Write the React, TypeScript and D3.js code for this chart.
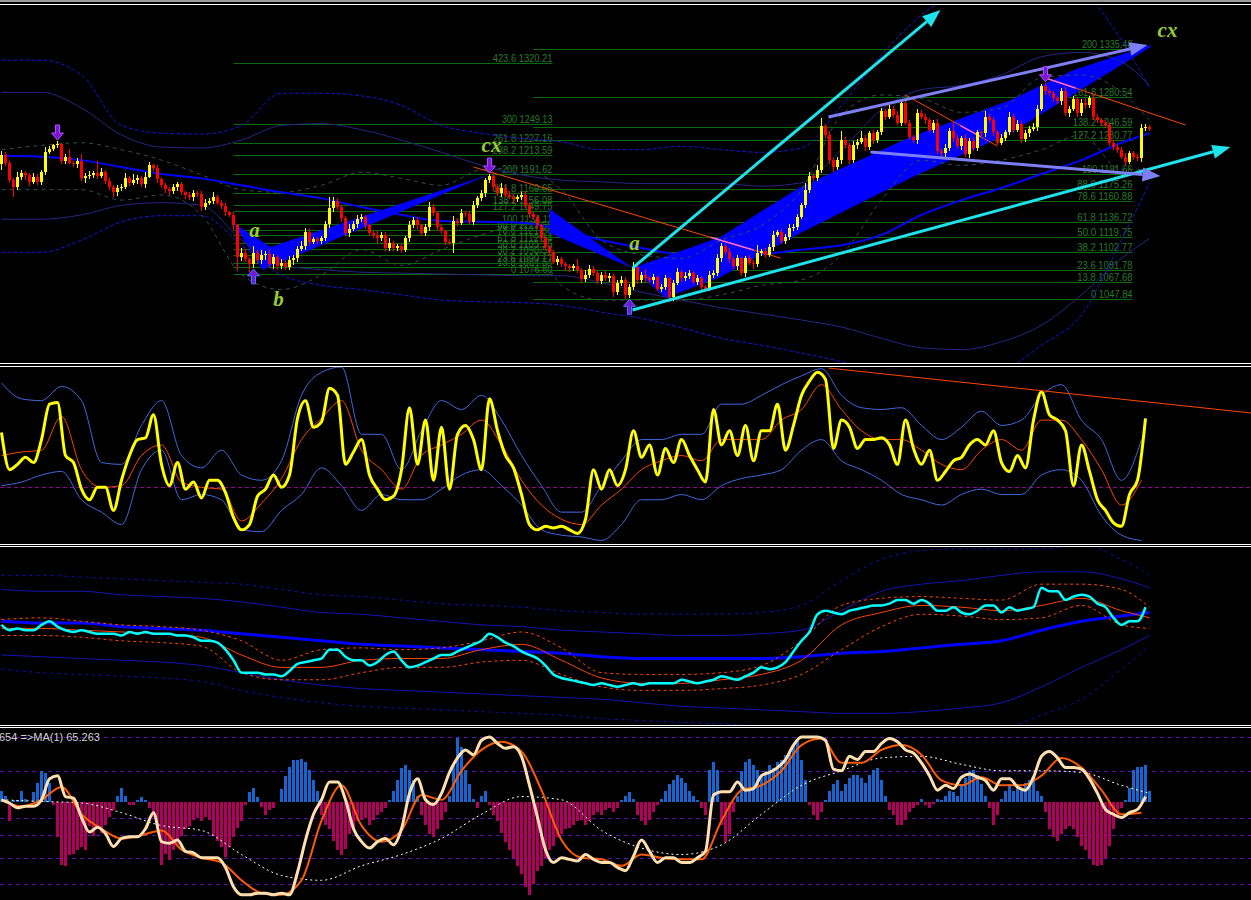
import * as d3 from 'd3';

const W = 1251;
const H = 900;

// ---------- panel 1 : price bars (open = previous close) ----------
const firstOpen = 1203;
const closes = [
  1214, 1205, 1185, 1177, 1189, 1193, 1191, 1183, 1189, 1183,
  1194, 1217, 1221, 1225, 1226, 1207, 1212, 1205, 1203, 1207,
  1187, 1190, 1191, 1193, 1190, 1194, 1184, 1177, 1171, 1176,
  1177, 1187, 1182, 1185, 1187, 1180, 1189, 1202, 1199, 1186,
  1179, 1175, 1172, 1177, 1180, 1171, 1168, 1165, 1170, 1169,
  1154, 1159, 1161, 1166, 1159, 1155, 1148, 1145, 1133, 1096,
  1101, 1094, 1089, 1101, 1093, 1099, 1100, 1088, 1096, 1086,
  1090, 1085, 1093, 1095, 1106, 1109, 1125, 1114, 1117, 1115,
  1118, 1134, 1153, 1161, 1154, 1141, 1124, 1129, 1134, 1140,
  1142, 1133, 1124, 1122, 1118, 1122, 1107, 1113, 1107, 1109,
  1105, 1118, 1133, 1139, 1133, 1124, 1131, 1154, 1147, 1131,
  1126, 1114, 1113, 1138, 1136, 1147, 1146, 1137, 1156, 1164,
  1170, 1185, 1190, 1177, 1170, 1176, 1168, 1166, 1163, 1166,
  1168, 1156, 1146, 1142, 1133, 1118, 1108, 1102, 1091, 1094,
  1088, 1086, 1084, 1086, 1081, 1071, 1076, 1083, 1078, 1069,
  1076, 1072, 1075, 1056, 1067, 1070, 1053, 1062, 1085, 1070,
  1076, 1072, 1070, 1073, 1060, 1062, 1072, 1050, 1067, 1079,
  1072, 1075, 1078, 1068, 1072, 1062, 1060, 1076, 1078, 1095,
  1109, 1102, 1094, 1086, 1095, 1078, 1095, 1090, 1088, 1101,
  1103, 1099, 1108, 1122, 1125, 1115, 1120, 1130, 1131, 1143,
  1156, 1174, 1190, 1187, 1197, 1247, 1237, 1208, 1200, 1208,
  1231, 1225, 1208, 1225, 1229, 1233, 1223, 1239, 1231, 1240,
  1264, 1258, 1267, 1260, 1251, 1274, 1251, 1235, 1231, 1262,
  1258, 1254, 1243, 1251, 1218, 1216, 1222, 1241, 1233, 1224,
  1233, 1215, 1230, 1222, 1240, 1239, 1258, 1254, 1240, 1228,
  1234, 1240, 1258, 1243, 1250, 1232, 1239, 1244, 1246, 1267,
  1293, 1287, 1285, 1279, 1276, 1287, 1262, 1267, 1278, 1262,
  1274, 1271, 1279, 1258, 1254, 1251, 1248, 1228, 1223, 1220,
  1212, 1206, 1216, 1212, 1210, 1245, 1246, 1244,
];
const wickUp = [
  4, 3, 2, 3, 5, 4, 3, 2, 4, 3, 3, 6, 3, 2, 4, 2, 3, 9, 2, 3,
  8, 3, 4, 3, 14, 5, 3, 4, 2, 3, 4, 6, 3, 7, 4, 3, 5, 4, 2, 3,
  2, 3, 2, 4, 3, 3, 2, 3, 4, 3, 3, 4, 3, 5, 2, 3, 4, 2, 3, 2,
  6, 5, 3, 8, 4, 6, 3, 5, 4, 3, 4, 3, 5, 4, 3, 6, 5, 4, 3, 2,
  3, 4, 12, 4, 3, 2, 3, 6, 4, 5, 4, 3, 2, 3, 4, 3, 3, 5, 2, 3,
  2, 3, 5, 4, 3, 2, 4, 6, 3, 2, 3, 2, 3, 6, 3, 5, 3, 4, 5, 3,
  4, 3, 2, 4, 3, 6, 3, 4, 3, 2, 3, 4, 3, 2, 3, 2, 3, 2, 3, 4,
  2, 3, 2, 3, 8, 3, 5, 4, 3, 2, 3, 4, 3, 2, 3, 5, 3, 4, 6, 3,
  3, 7, 3, 4, 2, 3, 4, 2, 3, 5, 3, 4, 3, 2, 4, 3, 2, 4, 3, 5,
  4, 3, 5, 3, 4, 2, 3, 4, 3, 9, 3, 4, 3, 5, 3, 4, 3, 5, 4, 3,
  3, 8, 4, 3, 5, 10, 3, 4, 3, 4, 11, 4, 3, 5, 3, 9, 4, 3, 4, 3,
  4, 3, 5, 3, 4, 3, 4, 3, 2, 5, 4, 3, 2, 3, 4, 3, 5, 4, 12, 4,
  3, 5, 3, 4, 3, 2, 6, 3, 4, 3, 4, 3, 5, 3, 4, 3, 4, 3, 5, 4,
  3, 4, 3, 2, 3, 4, 5, 3, 4, 3, 4, 5, 3, 4, 3, 2, 3, 4, 3, 4,
  3, 4, 3, 2, 3, 4, 3, 2,
];
const wickDn = [
  6, 4, 3, 12, 3, 4, 6, 5, 3, 4, 4, 3, 2, 3, 3, 4, 3, 2, 3, 4,
  3, 5, 4, 3, 4, 3, 4, 3, 5, 4, 3, 2, 4, 3, 5, 3, 4, 2, 3, 4,
  3, 5, 4, 3, 4, 3, 5, 3, 4, 3, 4, 3, 3, 4, 3, 3, 4, 3, 5, 15,
  4, 3, 10, 5, 3, 4, 6, 3, 5, 4, 3, 4, 3, 6, 4, 3, 4, 5, 3, 4,
  4, 3, 4, 5, 3, 4, 3, 4, 3, 4, 3, 4, 3, 4, 5, 3, 4, 3, 4, 3,
  4, 3, 4, 3, 4, 3, 3, 4, 3, 4, 3, 4, 3, 12, 4, 3, 4, 3, 4, 3,
  3, 4, 3, 4, 3, 4, 3, 3, 4, 3, 4, 3, 5, 3, 4, 4, 3, 4, 3, 4,
  3, 4, 5, 4, 3, 4, 3, 4, 3, 4, 4, 3, 4, 6, 3, 4, 5, 4, 3, 5,
  3, 4, 3, 4, 3, 4, 3, 5, 4, 3, 4, 3, 4, 3, 4, 5, 4, 3, 4, 3,
  4, 3, 4, 3, 4, 3, 4, 3, 5, 3, 3, 4, 3, 4, 3, 4, 3, 4, 3, 3,
  3, 3, 4, 3, 3, 4, 3, 4, 6, 3, 4, 3, 4, 3, 4, 3, 4, 3, 4, 3,
  3, 4, 3, 4, 3, 4, 3, 4, 3, 4, 3, 4, 3, 4, 3, 4, 5, 3, 4, 3,
  4, 3, 4, 3, 4, 3, 4, 3, 4, 3, 3, 4, 3, 4, 3, 4, 3, 4, 3, 4,
  3, 4, 3, 4, 3, 4, 3, 4, 3, 4, 3, 4, 3, 4, 3, 4, 3, 4, 3, 4,
  3, 4, 3, 4, 3, 4, 3, 3,
];

// overlays sampled every 10 bars (last point on bar 287)
const overlayBars = [0, 10, 20, 30, 40, 50, 60, 70, 80, 90, 100, 110, 120, 130, 140,
  150, 160, 170, 180, 190, 200, 210, 220, 230, 240, 250, 260, 270, 280, 287];
const maLine = [1213, 1212, 1208, 1200, 1192, 1187, 1179, 1171, 1164, 1154, 1145, 1138, 1137, 1136, 1128,
  1116, 1107, 1099, 1097, 1100, 1105, 1110, 1122, 1145, 1162, 1176, 1192, 1208, 1228, 1239];
const envUpperDot = [1323, 1323, 1306, 1248, 1239, 1238, 1248, 1285, 1285, 1282, 1271, 1248, 1239, 1233, 1229,
  1220, 1220, 1224, 1220, 1217, 1222, 1271, 1329, 1375, 1404, 1421, 1421, 1404, 1346, 1291];
const envUpper = [1286, 1286, 1268, 1237, 1223, 1222, 1231, 1248, 1250, 1243, 1231, 1217, 1202, 1191, 1185,
  1183, 1181, 1181, 1181, 1178, 1182, 1220, 1266, 1289, 1294, 1306, 1327, 1332, 1321, 1294];
const envLower = [1140, 1140, 1145, 1156, 1159, 1156, 1116, 1087, 1082, 1079, 1078, 1077, 1076, 1075, 1075,
  1067, 1056, 1047, 1038, 1031, 1024, 1016, 1003, 992, 990, 999, 1018, 1053, 1095, 1118];
const envLowerDot = [1102, 1102, 1116, 1137, 1144, 1144, 1110, 1076, 1064, 1059, 1053, 1047, 1045, 1044, 1041,
  1033, 1026, 1015, 1003, 995, 986, 976, 964, 955, 955, 964, 995, 1030, 1116, 1182];
const bandUpper = [1220, 1225, 1228, 1220, 1208, 1191, 1174, 1171, 1179, 1194, 1187, 1179, 1197, 1199, 1174,
  1116, 1099, 1095, 1116, 1133, 1174, 1260, 1283, 1279, 1263, 1268, 1303, 1306, 1286, 1254];
const bandLower = [1174, 1174, 1174, 1162, 1168, 1145, 1076, 1059, 1076, 1105, 1087, 1105, 1122, 1133, 1064,
  1047, 1047, 1047, 1053, 1064, 1070, 1099, 1162, 1208, 1202, 1208, 1220, 1237, 1197, 1197];

// fibonacci levels (left and right set)
const fibLeftLevels = ['0', '13.8', '23.6', '38.2', '50.0', '61.8', '78.6', '88.6', '100', '127.2', '138.2',
  '161.8', '200', '238.2', '261.8', '300', '423.6'];
const fibLeftPrices = [1076.60, 1084.54, 1090.17, 1098.57, 1105.35, 1112.14, 1121.80, 1127.55, 1134.11,
  1149.75, 1156.08, 1169.65, 1191.62, 1213.59, 1227.16, 1249.13, 1320.21];
const fibLeftSpan = [58, 137.75];
const fibRightLevels = ['0', '13.8', '23.6', '38.2', '50.0', '61.8', '78.6', '88.6', '100', '127.2', '138.2',
  '161.8', '200'];
const fibRightPrices = [1047.84, 1067.68, 1081.78, 1102.77, 1119.75, 1136.72, 1160.88, 1175.26, 1191.66,
  1230.77, 1246.59, 1280.54, 1335.48];
const fibRightSpan = [133, 282.75];

// harmonic pattern fills, [bar, price]
const patternA = [[58, 1135.6], [65.25, 1081.5], [122.25, 1192.0], [67.25, 1108.0]];
const patternWedge = [[137, 1151.7], [137, 1124.1], [157.75, 1083.8]];
const patternB = [[157.75, 1083.8], [179.75, 1119.5], [199.75, 1177.0], [227.25, 1234.6], [252.25, 1277.1],
  [268, 1311.7], [287.25, 1340.4], [287.25, 1338.1], [252.25, 1239.2], [227.25, 1187.4], [199.75, 1124.1],
  [179.75, 1073.5], [166, 1049.3]];

// trend lines, [bar, price]
const cyanLines = [
  [[157.75, 1083.8], [234.75, 1380.7]],
  [[157.75, 1035.5], [307.25, 1223.1]],
];
const channelLines = [
  [[206.75, 1257.6], [286.5, 1340.4]],
  [[217.25, 1217.3], [289.75, 1189.7]],
];
const zigLines = [
  [[118, 1200.1], [194.75, 1095.3]],
  [[226, 1282.9], [249, 1224.2]],
  [[261, 1302.5], [296, 1248.4]],
];
const zigPink = [
  [[177.25, 1119.3], [188, 1104.6]],
  [[239.75, 1247.8], [244.75, 1235.0]],
  [[261, 1302.5], [268.5, 1290.9]],
];
const arrowsDown = [14, 122, 261];
const arrowsUp = [63, 157];
const labelTexts = ['a', 'b', 'cx', 'a', 'cx'];
const labelBars = [63.25, 69.25, 122.5, 158.25, 291.5];
const labelPrices = [1119.5, 1040.1, 1217.3, 1104.6, 1349.6];

// ---------- panel 2 : oscillator ----------
const oscMain = [
  63, 42, 45, 49, 46, 59, 79, 80, 50, 46, 31, 25, 32, 32, 19, 36, 50, 59, 60, 73,
  45, 33, 46, 31, 35, 26, 36, 36, 29, 15, 8, 11, 27, 31, 39, 32, 39, 71, 81, 66,
  69, 88, 84, 45, 52, 59, 39, 31, 25, 27, 42, 77, 45, 70, 36, 66, 31, 62, 67, 59,
  42, 82, 64, 50, 43, 28, 11, 8, 10, 9, 10, 8, 6, 14, 42, 31, 42, 33, 42, 64,
  49, 56, 39, 54, 46, 59, 50, 42, 35, 76, 56, 64, 50, 67, 47, 64, 64, 79, 53, 67,
  84, 92, 97, 93, 54, 70, 66, 54, 59, 59, 60, 56, 45, 70, 54, 45, 53, 36, 41, 47,
  49, 56, 59, 56, 64, 46, 41, 50, 43, 70, 86, 73, 70, 64, 33, 56, 41, 25, 19, 12,
  10, 28, 36, 71,
];
const oscSignal = [50, 52, 53, 72, 42, 32, 33, 50, 56, 35, 32, 31, 13, 23, 37, 59, 71, 81, 53, 42,
  31, 50, 56, 62, 70, 56, 36, 22, 14, 11, 22, 31, 42, 47, 50, 47, 59, 59, 59, 70,
  76, 90, 76, 64, 59, 59, 53, 45, 42, 53, 59, 53, 70, 70, 59, 42, 22, 36];
const oscUpper = [91, 82, 81, 89, 81, 46, 45, 67, 81, 50, 43, 53, 39, 36, 47, 84, 97, 100, 62, 62,
  42, 64, 81, 76, 84, 70, 50, 33, 18, 18, 33, 47, 59, 59, 62, 62, 79, 79, 84, 90,
  95, 99, 84, 77, 76, 77, 67, 59, 66, 75, 67, 70, 84, 90, 70, 59, 36, 59];
const oscLower = [33, 35, 39, 41, 25, 18, 11, 42, 53, 25, 28, 25, 8, 7, 19, 28, 43, 33, 19, 28,
  25, 25, 31, 39, 42, 33, 22, 8, 5, 4, 2, 11, 25, 25, 28, 25, 33, 37, 39, 42,
  53, 59, 47, 42, 36, 28, 25, 22, 28, 31, 28, 28, 39, 42, 36, 16, 5, 2];
const oscLevel = 32;
const oscTrend = [[206.75, 99.4], [312.5, 74.0]];

// ---------- panel 3 : smoothed momentum ----------
const momMain = [
  56, 53, 54, 53, 53, 56, 58, 55, 53, 52, 53, 52, 51, 51, 51, 50, 52, 51, 52, 51,
  51, 51, 50, 50, 49, 47, 47, 46, 42, 36, 29, 29, 29, 28, 28, 27, 30, 34, 35, 36,
  37, 42, 42, 38, 36, 36, 33, 35, 39, 41, 36, 32, 33, 35, 37, 39, 39, 41, 43, 45,
  47, 51, 49, 46, 44, 41, 39, 37, 33, 28, 26, 25, 24, 23, 22, 23, 22, 21, 22, 23,
  22, 23, 23, 23, 23, 25, 24, 23, 24, 25, 27, 26, 25, 27, 29, 32, 31, 32, 35, 41,
  47, 52, 62, 64, 63, 62, 64, 65, 66, 67, 67, 68, 70, 70, 68, 70, 68, 64, 64, 66,
  63, 62, 64, 67, 67, 63, 66, 64, 65, 66, 77, 75, 75, 70, 72, 73, 72, 68, 66, 60,
  56, 58, 58, 66,
];
const momMa = [54, 54, 53, 52, 51, 49, 39, 32, 32, 36, 37, 37, 42, 45, 36, 26, 23, 23, 25, 28,
  36, 56, 63, 67, 66, 64, 67, 71, 64, 60];
const momBandUp = [59, 60, 58, 56, 55, 53, 47, 36, 42, 43, 42, 43, 47, 52, 43, 29, 28, 28, 29, 33,
  47, 67, 71, 72, 71, 70, 79, 79, 76, 66];
const momBandDn = [50, 50, 49, 47, 46, 44, 29, 25, 25, 29, 32, 32, 35, 36, 28, 21, 19, 19, 20, 22,
  28, 42, 55, 62, 61, 59, 60, 67, 56, 54];
const momSlow = [58, 57, 57, 55, 54, 53, 51, 49, 47, 45, 44, 43, 42, 41, 40, 38, 37, 37, 37, 37,
  38, 40, 41, 43, 45, 47, 53, 58, 61, 63];
const momChanUp = [76, 75, 75, 73, 72, 71, 69, 66, 63, 62, 60, 58, 56, 55, 53, 52, 51, 50, 50, 51,
  53, 64, 75, 79, 81, 84, 86, 86, 82, 77];
const momChanDn = [39, 38, 37, 36, 35, 33, 29, 25, 22, 20, 19, 18, 17, 16, 15, 14, 12, 10, 9, 8,
  7, 6, 6, 7, 9, 12, 21, 32, 42, 50];
const momOuterUp = [84, 84, 83, 82, 81, 80, 79, 76, 73, 72, 70, 68, 67, 66, 64, 63, 62, 62, 62, 63,
  67, 81, 93, 98, 99, 99, 99, 101, 93, 84];
const momOuterDn = [31, 29, 28, 27, 26, 24, 19, 15, 12, 10, 9, 8, 7, 6, 5, 3, 2, 1, 0, -1,
  -2, -5, -7, -8, -7, -3, 5, 14, 31, 44];

// ---------- panel 4 : stochastic + histogram ----------
const stochMain = [
  61, 59, 56, 57, 57, 61, 74, 76, 63, 62, 50, 41, 44, 40, 32, 37, 38, 38, 43, 53,
  35, 34, 36, 29, 28, 25, 25, 25, 19, 7, 2, 2, 3, 3, 2, 3, 2, 16, 36, 52,
  61, 72, 72, 61, 43, 35, 31, 35, 37, 33, 43, 65, 74, 61, 58, 65, 78, 87, 92, 89,
  98, 100, 96, 93, 94, 88, 70, 50, 30, 22, 25, 24, 23, 27, 24, 22, 22, 19, 17, 26,
  36, 29, 22, 25, 25, 22, 22, 25, 29, 64, 66, 66, 72, 67, 68, 76, 78, 81, 86, 95,
  100, 100, 100, 98, 80, 79, 88, 86, 91, 91, 96, 99, 97, 92, 90, 84, 76, 67, 70, 68,
  75, 77, 75, 73, 67, 74, 74, 69, 67, 75, 88, 91, 87, 81, 81, 80, 74, 65, 55, 52,
  50, 53, 55, 63,
];
const stochSignal = [61, 57, 61, 69, 52, 43, 37, 39, 42, 30, 25, 22, 11, 3, 2, 11, 48, 70, 45, 35,
  42, 64, 61, 79, 92, 97, 91, 67, 36, 25, 24, 20, 27, 25, 24, 24, 48, 67, 70, 79,
  95, 99, 84, 84, 92, 95, 89, 73, 70, 75, 70, 70, 76, 87, 81, 67, 52, 53];
const stochSlow = [61, 60, 59, 53, 45, 42, 27, 14, 11, 20, 27, 37, 52, 63, 61, 42, 31, 27, 33, 52,
  70, 79, 87, 88, 83, 79, 79, 78, 70, 65];
const stochLevels = [100, 79, 50, 39, 25, 9];
const histValues = [
  7, 4, -12, 1, 1, 7, 2, 0, 6, 12, 19, 18, 12, -2, -22, -39, -40, -33, -32, -30,
  -28, -30, -15, -21, -16, -19, -14, -9, -5, 4, 9, 4, -2, -2, 1, 3, 1, -4, -9, -17,
  -39, -32, -36, -30, -26, -21, -17, -15, -11, -10, -12, -9, -11, -21, -24, -28, -34, -28, -22, -16,
  -12, -2, 6, 9, 3, -3, -8, -5, -4, 0, 8, 16, 22, 26, 26, 27, 25, 20, 14, 7,
  -8, -14, -17, -24, -30, -33, -29, -20, -16, -12, -11, -10, -14, -11, -8, -6, -4, 1, 7, 14,
  21, 23, 20, 14, 4, -8, -14, -20, -22, -17, -11, -6, 4, 23, 40, 34, 20, 11, 2, -4,
  4, 7, -2, -8, -12, -19, -25, -30, -35, -40, -45, -53, -58, -51, -43, -40, -35, -30, -27, -22,
  -20, -17, -16, -14, -12, -11, -14, -12, -8, -6, -8, -5, -4, -6, -4, 1, 4, 6, 2, -8,
  -12, -14, -11, -6, -2, 2, 7, 11, 14, 17, 15, 12, 7, 4, 1, -4, -8, 20, 25, 20,
  -14, -25, -20, -6, 4, 19, 25, 27, 23, 20, 17, 19, 23, 21, 25, 26, 29, 32, 35, 38,
  26, 14, -2, -8, -11, -6, 1, 7, 11, 14, 7, 11, 15, 17, 17, 15, 12, 17, 20, 21,
  14, 4, -5, -8, -14, -14, -11, -6, -4, -2, 2, -2, -4, -1, 2, 1, 4, 7, 6, 4,
  11, 15, 19, 20, 17, 11, 4, -4, -14, -8, 2, 7, 11, 7, 11, 9, 12, 14, 15, 7,
  4, -6, -17, -22, -24, -20, -17, -15, -17, -22, -27, -30, -35, -39, -40, -39, -35, -27, -17, -10,
  -4, 1, 9, 20, 22, 22, 23, 7,
];
const stochCaption = '654  =>MA(1) 65.263';

type Pt = number[];

function arrowHead(x1: number, y1: number, x2: number, y2: number, len: number, half: number) {
  const a = Math.atan2(y2 - y1, x2 - x1);
  const bx = x2 - len * Math.cos(a);
  const by = y2 - len * Math.sin(a);
  const nx = -Math.sin(a) * half;
  const ny = Math.cos(a) * half;
  return { base: [bx, by], points: `${x2},${y2} ${bx + nx},${by + ny} ${bx - nx},${by - ny}` };
}

export default function App() {
  const x = d3.scaleLinear().domain([0, 100]).range([1.5, 401.5]);
  const yPrice = d3.scaleLinear().domain([975.7, 1386.5]).range([362, 5]);
  const yOsc = d3.scaleLinear().domain([0, 100]).range([544, 367]);
  const yMom = d3.scaleLinear().domain([0, 100]).range([724, 547]);
  const yStoch = d3.scaleLinear().domain([0, 100]).range([898, 737]);
  const yHist = d3.scaleLinear().domain([-59.6, 40.4]).range([898, 737]);

  const seq = (n: number, step: number) => d3.range(n).map((k) => k * step);
  const path = (bars: number[], vals: number[], y: d3.ScaleLinear<number, number>) =>
    d3.line<number>().x((_, k) => x(bars[k])).y((v) => y(v)).curve(d3.curveMonotoneX)(vals) || '';
  const poly = (pts: Pt[], y: d3.ScaleLinear<number, number>) =>
    pts.map((p) => `${x(p[0])},${y(p[1])}`).join(' ');

  const bars2 = seq(oscMain.length, 2);
  const bars5 = seq(oscSignal.length, 5);

  // candles
  const candles = closes.map((c, i) => {
    const o = i === 0 ? firstOpen : closes[i - 1];
    const top = Math.max(o, c);
    const bot = Math.min(o, c);
    const col = c >= o ? '#ffff00' : '#ff0000';
    const cx = Math.round(x(i) - 0.5) + 0.5;
    const yt = Math.round(yPrice(top));
    const yb = Math.round(yPrice(bot));
    return (
      <g key={i}>
        <line x1={cx} x2={cx} y1={yPrice(top + wickUp[i])} y2={yPrice(bot - wickDn[i])} stroke={col} strokeWidth={1} />
        <rect x={cx - 1.5} y={yt} width={3} height={Math.max(1, yb - yt)} fill={col} />
      </g>
    );
  });

  const trend = (pts: Pt[], color: string, width: number, head: boolean, key: string, y = yPrice) => {
    const x1 = x(pts[0][0]), y1 = y(pts[0][1]), x2 = x(pts[1][0]), y2 = y(pts[1][1]);
    if (!head) return <line key={key} x1={x1} y1={y1} x2={x2} y2={y2} stroke={color} strokeWidth={width} />;
    const h = arrowHead(x1, y1, x2, y2, 18, 7);
    return (
      <g key={key}>
        <line x1={x1} y1={y1} x2={h.base[0]} y2={h.base[1]} stroke={color} strokeWidth={width} />
        <polygon points={h.points} fill={color} />
      </g>
    );
  };

  const signalArrow = (i: number, dir: 'up' | 'down') => {
    const o = i === 0 ? firstOpen : closes[i - 1];
    const c = closes[i];
    const cx = x(i);
    if (dir === 'down') {
      const tip = yPrice(Math.max(o, c) + wickUp[i]) - 1;
      const pts = [[cx - 2, tip - 15], [cx + 2, tip - 15], [cx + 2, tip - 7], [cx + 6, tip - 7], [cx, tip],
        [cx - 6, tip - 7], [cx - 2, tip - 7]];
      return <polygon key={`d${i}`} points={pts.map((p) => p.join(',')).join(' ')} fill="#7a16d8" stroke="#b04cff" strokeWidth={1} />;
    }
    const tip = yPrice(Math.min(o, c) - wickDn[i]) + 1;
    const pts = [[cx - 2, tip + 15], [cx + 2, tip + 15], [cx + 2, tip + 7], [cx + 6, tip + 7], [cx, tip],
      [cx - 6, tip + 7], [cx - 2, tip + 7]];
    return <polygon key={`u${i}`} points={pts.map((p) => p.join(',')).join(' ')} fill="#7a16d8" stroke="#3a7cff" strokeWidth={1} />;
  };

  const fibSet = (levels: string[], prices: number[], span: number[], key: string) =>
    prices.map((p, k) => {
      const y = Math.round(yPrice(p)) + 0.5;
      const txt = `${levels[k]} ${p.toFixed(2)}`;
      return (
        <g key={`${key}${k}`}>
          <line x1={x(span[0])} x2={x(span[1])} y1={y} y2={y} stroke="#0b6b0b" strokeWidth={1} />
          <text x={x(span[1])} y={y - 2} textAnchor="end" fontSize={11} fill="#2a7a2a"
            fontFamily="Liberation Sans, Arial, sans-serif" textLength={txt.length * 4.6} lengthAdjust="spacingAndGlyphs">
            {txt}
          </text>
        </g>
      );
    });

  const sep = [363.5, 366.5, 544.5, 546.5, 725.5, 727.5];

  return (
    <svg width={W} height={H} style={{ position: 'absolute', left: 0, top: 0, display: 'block', background: '#000' }}>
      <defs>
        <clipPath id="c1"><rect x={0} y={5} width={W} height={358} /></clipPath>
        <clipPath id="c2"><rect x={0} y={367} width={W} height={177} /></clipPath>
        <clipPath id="c3"><rect x={0} y={547} width={W} height={178} /></clipPath>
        <clipPath id="c4"><rect x={0} y={728} width={W} height={172} /></clipPath>
      </defs>
      <rect width={W} height={H} fill="#000" />
      <rect x={0} y={0} width={W} height={2} fill="#9a9a9a" />
      <line x1={0} x2={W} y1={4.5} y2={4.5} stroke="#fff" />
      {sep.map((s) => <line key={s} x1={0} x2={W} y1={s} y2={s} stroke="#fff" />)}

      {/* panel 1 */}
      <g clipPath="url(#c1)">
        {fibSet(fibLeftLevels, fibLeftPrices, fibLeftSpan, 'fl')}
        {fibSet(fibRightLevels, fibRightPrices, fibRightSpan, 'fr')}
        <polygon points={poly(patternA, yPrice)} fill="#0000ff" />
        <polygon points={poly(patternWedge, yPrice)} fill="#0000ff" />
        <polygon points={poly(patternB, yPrice)} fill="#0000ff" />
        <path d={path(overlayBars, envUpperDot, yPrice)} fill="none" stroke="#1515d0" strokeDasharray="4 2" />
        <path d={path(overlayBars, envLowerDot, yPrice)} fill="none" stroke="#1515d0" strokeDasharray="4 2" />
        <path d={path(overlayBars, envUpper, yPrice)} fill="none" stroke="#262686" />
        <path d={path(overlayBars, envLower, yPrice)} fill="none" stroke="#262686" />
        <path d={path(overlayBars, bandUpper, yPrice)} fill="none" stroke="#2f4f4f" strokeDasharray="4 4" />
        <path d={path(overlayBars, bandLower, yPrice)} fill="none" stroke="#2f4f4f" strokeDasharray="4 4" />
        <path d={path(overlayBars, maLine, yPrice)} fill="none" stroke="#0000ff" strokeWidth={2} />
        {zigLines.map((l, k) => trend(l, '#ff4500', 1, false, `z${k}`))}
        {zigPink.map((l, k) => trend(l, '#ff66cc', 1.5, false, `zp${k}`))}
        <g shapeRendering="crispEdges">{candles}</g>
        {cyanLines.map((l, k) => trend(l, '#1fe3ec', 3, true, `c${k}`))}
        {channelLines.map((l, k) => trend(l, '#7f7ff5', 3, true, `l${k}`))}
        {arrowsDown.map((i) => signalArrow(i, 'down'))}
        {arrowsUp.map((i) => signalArrow(i, 'up'))}
        {labelTexts.map((t, k) => (
          <text key={`lb${k}`} x={x(labelBars[k])} y={yPrice(labelPrices[k])} textAnchor="middle" fontSize={21}
            fontStyle="italic" fontWeight="bold" fontFamily="Liberation Serif, serif" fill="#9acd32">{t}</text>
        ))}
      </g>

      {/* panel 2 */}
      <g clipPath="url(#c2)">
        <line x1={0} x2={W} y1={Math.round(yOsc(oscLevel)) + 0.5} y2={Math.round(yOsc(oscLevel)) + 0.5}
          stroke="#8b0a8b" strokeDasharray="4 3" />
        <path d={path(bars5, oscUpper, yOsc)} fill="none" stroke="#4169e1" strokeWidth={1} />
        <path d={path(bars5, oscLower, yOsc)} fill="none" stroke="#4169e1" strokeWidth={1} />
        <path d={path(bars5, oscSignal, yOsc)} fill="none" stroke="#ff4500" strokeWidth={1} />
        <path d={path(bars2, oscMain, yOsc)} fill="none" stroke="#ffff00" strokeWidth={3} strokeLinejoin="round" />
        {trend(oscTrend, '#ff4500', 1, false, 'ot', yOsc)}
      </g>

      {/* panel 3 */}
      <g clipPath="url(#c3)">
        <path d={path(overlayBars, momOuterUp, yMom)} fill="none" stroke="#1010b0" strokeDasharray="3 4" />
        <path d={path(overlayBars, momOuterDn, yMom)} fill="none" stroke="#1010b0" strokeDasharray="3 4" />
        <path d={path(overlayBars, momChanUp, yMom)} fill="none" stroke="#1414b4" />
        <path d={path(overlayBars, momChanDn, yMom)} fill="none" stroke="#1414b4" />
        <path d={path(overlayBars, momSlow, yMom)} fill="none" stroke="#0000ff" strokeWidth={3} />
        <path d={path(overlayBars, momBandUp, yMom)} fill="none" stroke="#ff4500" strokeDasharray="3 3" />
        <path d={path(overlayBars, momBandDn, yMom)} fill="none" stroke="#ff4500" strokeDasharray="3 3" />
        <path d={path(overlayBars, momMa, yMom)} fill="none" stroke="#ff4500" />
        <path d={path(bars2, momMain, yMom)} fill="none" stroke="#00ffff" strokeWidth={2.5} strokeLinejoin="round" />
      </g>

      {/* panel 4 */}
      <g clipPath="url(#c4)">
        {stochLevels.map((lv) => (
          <line key={lv} x1={0} x2={W} y1={Math.round(yStoch(lv)) + 0.5} y2={Math.round(yStoch(lv)) + 0.5}
            stroke="#5a12a8" strokeDasharray="4 4" />
        ))}
        <g shapeRendering="crispEdges">
          {histValues.map((h, i) => {
            const y0 = Math.round(yHist(0));
            const y1 = Math.round(yHist(h));
            return (
              <rect key={i} x={Math.round(x(i) - 1.5)} y={Math.min(y0, y1)} width={3}
                height={Math.abs(y1 - y0)} fill={h >= 0 ? '#1566d0' : '#b3005c'} />
            );
          })}
        </g>
        <path d={path(overlayBars, stochSlow, yStoch)} fill="none" stroke="#ffffff" strokeDasharray="2 3" />
        <path d={path(bars5, stochSignal, yStoch)} fill="none" stroke="#ff5a00" strokeWidth={2} />
        <path d={path(bars2, stochMain, yStoch)} fill="none" stroke="#ffdfb0" strokeWidth={3} strokeLinejoin="round" />
        <text x={-1} y={741} fontSize={11} fill="#d0d0d0" fontFamily="Liberation Sans, Arial, sans-serif">{stochCaption}</text>
      </g>
    </svg>
  );
}
